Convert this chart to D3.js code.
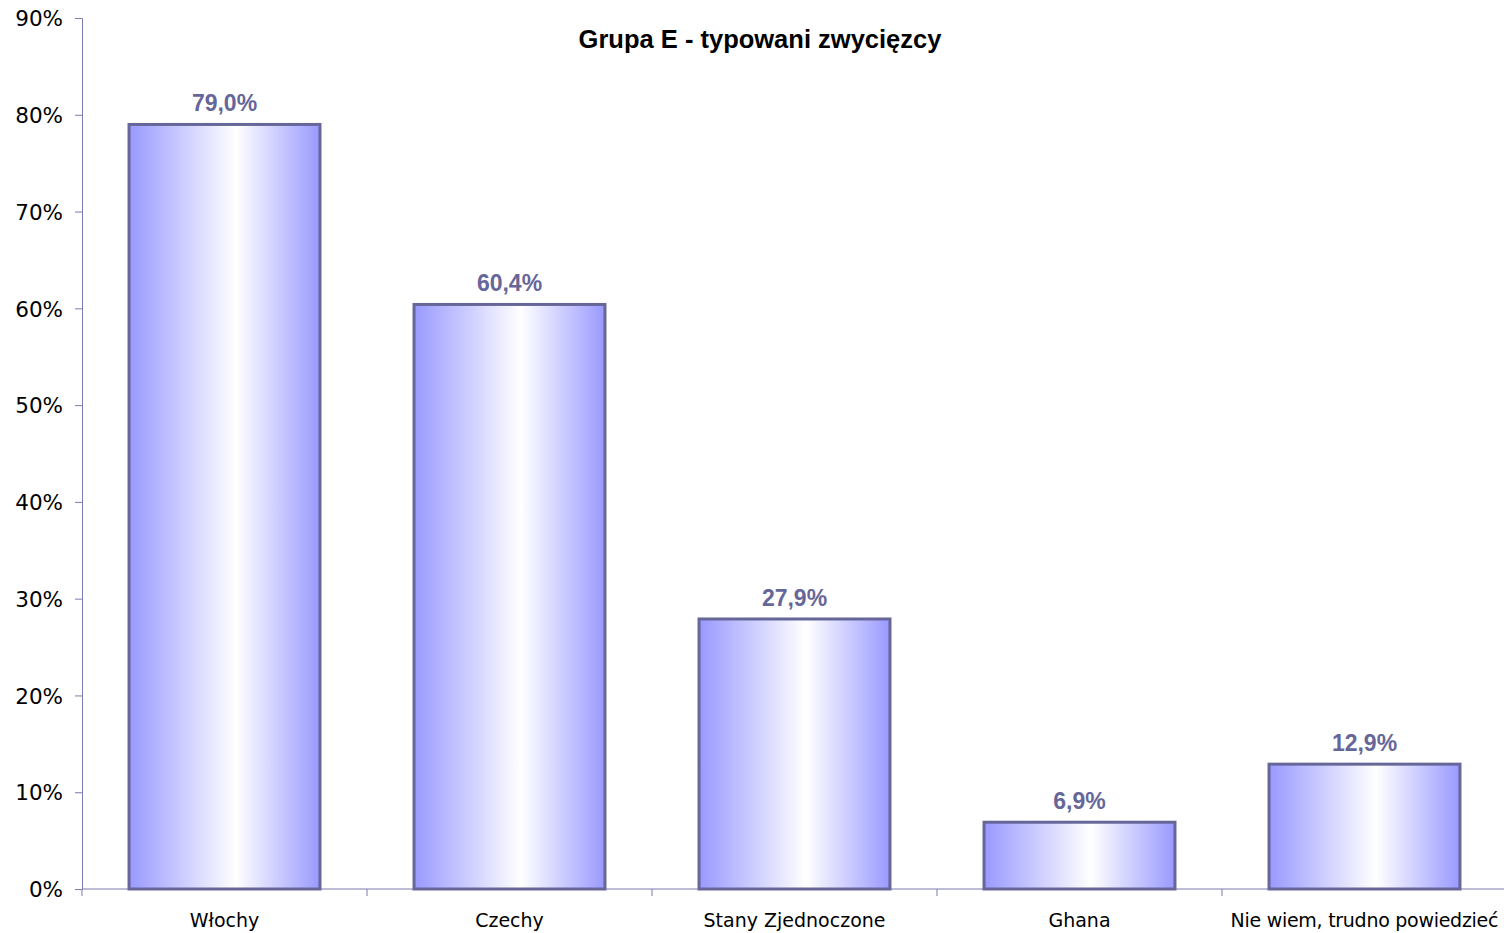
<!DOCTYPE html>
<html>
<head>
<meta charset="utf-8">
<script src="https://cdn.jsdelivr.net/npm/d3@7"></script>
<style>
  html, body { margin: 0; padding: 0; background: #fff; }
  svg { display: block; }
</style>
</head>
<body>
<svg id="chart" width="1504" height="933"></svg>
<script>
// Chart data
const categories = ["Włochy", "Czechy", "Stany Zjednoczone", "Ghana", "Nie wiem, trudno powiedzieć"];
const values = [79.0, 60.4, 27.9, 6.9, 12.9];
const yTicks = [0, 10, 20, 30, 40, 50, 60, 70, 80, 90];
const title = "Grupa E - typowani zwycięzcy";

const width = 1504, height = 933;
const margin = { top: 18, right: -3, bottom: 44, left: 82 };

const svg = d3.select("#chart");

// Horizontal shading for the bars: blue at the sides, white near the middle
const defs = svg.append("defs");
const grad = defs.append("linearGradient")
  .attr("id", "barFill")
  .attr("x1", "0%").attr("y1", "0%")
  .attr("x2", "100%").attr("y2", "0%");
grad.append("stop").attr("offset", "0%").attr("stop-color", "#9999ff");
grad.append("stop").attr("offset", "56%").attr("stop-color", "#ffffff");
grad.append("stop").attr("offset", "100%").attr("stop-color", "#9999ff");

const x = d3.scaleBand()
  .domain(categories)
  .range([margin.left, width - margin.right])
  .paddingInner(0.33)
  .paddingOuter(0.165);

const y = d3.scaleLinear()
  .domain([0, 90])
  .range([height - margin.bottom, margin.top]);

const axisColor = "#7b7bb0";

// Y axis
const yAxis = svg.append("g")
  .attr("transform", `translate(${margin.left},0)`)
  .call(d3.axisLeft(y).tickValues(yTicks).tickFormat(d => d + "%").tickSizeOuter(0).tickSize(7).tickPadding(12));
yAxis.select(".domain").attr("stroke", axisColor);
yAxis.selectAll(".tick line").attr("stroke", axisColor);
yAxis.selectAll(".tick text")
  .attr("fill", "#000")
  .style("font-family", "'DejaVu Sans', Verdana, sans-serif")
  .style("font-size", "21.5px")
  .attr("dy", "0.36em");

// X axis: ticks sit on the category boundaries
const xAxisG = svg.append("g").attr("transform", `translate(0,${y(0)})`);
xAxisG.append("line")
  .attr("x1", margin.left).attr("x2", width)
  .attr("y1", 0).attr("y2", 0)
  .attr("stroke", axisColor).attr("stroke-width", 1);
const step = x.step();
const bounds = d3.range(categories.length).map(i => margin.left + i * step);
xAxisG.selectAll("line.tk")
  .data(bounds)
  .join("line")
  .attr("class", "tk")
  .attr("x1", d => d).attr("x2", d => d)
  .attr("y1", 0).attr("y2", 7)
  .attr("stroke", axisColor);
xAxisG.selectAll("text.cat")
  .data(categories)
  .join("text")
  .attr("class", "cat")
  .attr("x", d => x(d) + x.bandwidth() / 2)
  .attr("y", 38)
  .attr("text-anchor", "middle")
  .style("font-family", "'DejaVu Sans', Verdana, sans-serif")
  .style("font-size", "19px")
  .attr("textLength", d => d.length > 20 ? 268 : null)
  .attr("fill", "#000")
  .text(d => d);

// Bars
svg.append("g").selectAll("rect")
  .data(values)
  .join("rect")
  .attr("x", (d, i) => x(categories[i]))
  .attr("y", d => y(d))
  .attr("width", x.bandwidth())
  .attr("height", d => y(0) - y(d))
  .attr("fill", "url(#barFill)")
  .attr("stroke", "#666699")
  .attr("stroke-width", 3);

// Value labels
svg.append("g").selectAll("text")
  .data(values)
  .join("text")
  .attr("x", (d, i) => x(categories[i]) + x.bandwidth() / 2)
  .attr("y", d => y(d) - 13)
  .attr("text-anchor", "middle")
  .style("font-family", "'Liberation Sans', Arial, sans-serif")
  .style("font-weight", "bold")
  .style("font-size", "23px")
  .attr("fill", "#666699")
  .text(d => d.toFixed(1).replace(".", ",") + "%");

// Title
svg.append("text")
  .attr("x", 760)
  .attr("y", 48)
  .attr("text-anchor", "middle")
  .style("font-family", "'Liberation Sans', Arial, sans-serif")
  .style("font-weight", "bold")
  .style("font-size", "25.5px")
  .attr("fill", "#000")
  .text(title);
</script>
</body>
</html>
